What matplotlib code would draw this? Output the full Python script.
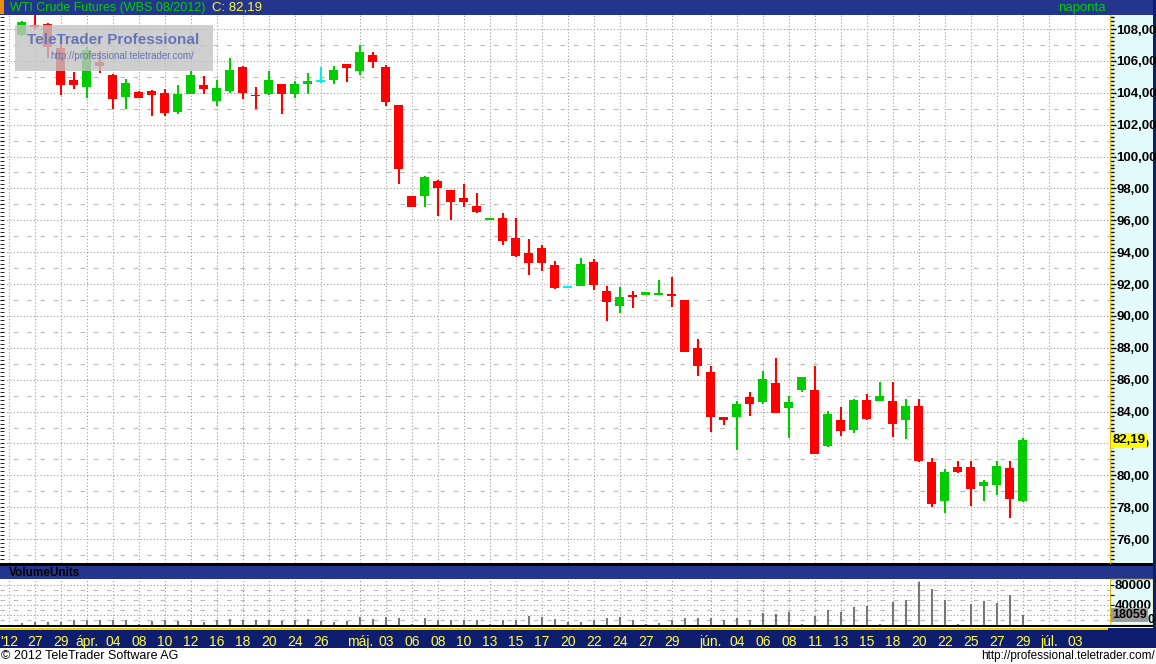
import numpy as np
import matplotlib
matplotlib.use("Agg")
import matplotlib.pyplot as plt
from matplotlib.patches import Rectangle

plt.rcParams['font.family'] = ['Liberation Sans', 'DejaVu Sans']

# daily OHLC, WTI Crude Futures (WBS 08/2012)
opens = [107.60, 108.22, 108.30, 106.79, 104.80, 104.38, 105.95, 105.11, 103.75, 104.07,
         104.10, 104.00, 102.80, 103.94, 104.49, 103.50, 104.11, 105.64, 103.86, 103.90,
         104.53, 103.92, 104.53, 104.76, 104.80, 105.78, 105.38, 106.37, 105.63, 103.25,
         97.50, 97.52, 98.44, 97.88, 97.38, 96.88, 96.06, 96.13, 94.88, 93.92,
         94.25, 93.19, 91.81, 91.88, 93.38, 91.56, 90.65, 91.31, 91.31, 91.31,
         91.38, 91.02, 87.96, 86.46, 83.65, 83.67, 84.92, 84.58, 85.77, 84.21,
         85.33, 85.33, 81.83, 83.46, 82.83, 84.71, 84.65, 84.65, 83.46, 84.33,
         80.83, 78.42, 80.52, 80.52, 79.33, 79.40, 80.46, 78.40]
highs = [108.50, 109.00, 108.35, 107.06, 105.32, 106.89, 106.62, 105.20, 104.85, 104.09,
         104.15, 104.22, 104.49, 105.38, 105.03, 104.80, 106.18, 105.68, 104.38, 105.38,
         104.55, 104.75, 105.27, 105.64, 105.70, 105.80, 106.99, 106.54, 105.75, 103.25,
         97.52, 98.81, 98.50, 97.89, 98.25, 97.69, 96.16, 96.44, 96.13, 94.81,
         94.44, 93.44, 91.81, 93.63, 93.56, 91.88, 91.81, 91.56, 91.50, 92.25,
         92.46, 91.03, 88.58, 86.83, 83.66, 84.65, 85.21, 86.52, 87.33, 84.96,
         86.16, 86.83, 84.02, 84.27, 84.77, 85.08, 85.83, 85.83, 84.77, 84.77,
         81.08, 80.40, 80.90, 80.90, 79.71, 80.90, 80.90, 82.33]
lows = [107.55, 107.98, 106.20, 103.86, 104.24, 103.69, 105.26, 102.97, 102.97, 103.67,
        102.54, 102.54, 102.67, 103.90, 103.94, 103.20, 103.98, 103.61, 102.98, 103.83,
        102.67, 103.69, 103.92, 104.63, 104.53, 104.69, 105.11, 105.57, 103.15, 98.25,
        96.82, 96.83, 96.27, 96.00, 96.83, 96.44, 96.05, 94.44, 93.69, 92.56,
        92.81, 91.69, 91.81, 91.87, 91.63, 89.70, 90.19, 90.50, 91.30, 91.30,
        90.58, 87.71, 86.21, 82.71, 83.15, 81.58, 83.71, 84.50, 83.88, 82.33,
        85.21, 81.32, 81.77, 82.46, 82.65, 83.50, 84.64, 82.40, 82.27, 80.83,
        78.02, 77.65, 80.15, 78.08, 78.42, 78.77, 77.33, 78.35]
closes = [108.45, 108.16, 106.90, 104.49, 104.49, 106.68, 105.65, 103.61, 104.63, 103.69,
          103.86, 102.75, 103.92, 105.11, 104.24, 104.30, 105.43, 104.00, 103.80, 104.80,
          103.92, 104.53, 104.74, 104.76, 105.43, 105.53, 106.58, 105.95, 103.40, 99.21,
          96.83, 98.71, 98.02, 97.13, 97.13, 96.52, 96.15, 94.71, 93.75, 93.33,
          93.33, 91.75, 91.81, 93.25, 91.94, 90.88, 91.19, 91.19, 91.50, 91.44,
          91.28, 87.75, 86.83, 83.67, 83.46, 84.46, 84.46, 86.02, 83.92, 84.58,
          86.15, 81.33, 83.83, 82.77, 84.71, 83.52, 84.96, 83.21, 84.33, 80.90,
          78.21, 80.21, 80.21, 79.15, 79.58, 80.58, 78.52, 82.19]
volumes = [2700, 4700, 6000, 6000, 8700, 8700, 9300, 9300, 8700, 1300,
           6700, 8700, 6700, 10000, 6000, 10000, 11300, 10000, 9300, 8700,
           6700, 8700, 11300, 6700, 4700, 6700, 14700, 11300, 14700, 13300,
           1300, 13300, 10000, 9300, 9300, 8700, 1300, 8700, 10000, 16700,
           14700, 11300, 4700, 6000, 10000, 13300, 16000, 10000, 1300, 2700,
           10000, 13300, 13300, 13300, 10000, 13300, 10000, 22700, 22000, 24700,
           1000, 16700, 30000, 25300, 34700, 36700, 1000, 45300, 50000, 85300,
           72000, 48700, 1500, 42000, 46700, 44000, 58700, 18059]

# date axis labels (position = trading-day index)
date_pos = [-1, 1, 3, 5, 7, 9, 11, 13, 15, 17, 19, 21, 23, 26, 28, 30, 32, 34, 36, 38, 40,
            42, 44, 46, 48, 50, 53, 55, 57, 59, 61, 63, 65, 67, 69, 71, 73, 75, 77, 79, 81]
date_lbl = ["'12", "27", "29", "ápr.", "04", "08", "10", "12", "16", "18", "20", "24", "26",
            "máj.", "03", "06", "08", "10", "13", "15", "17", "20", "22", "24", "27", "29",
            "jún.", "04", "06", "08", "11", "13", "15", "18", "20", "22", "25", "27", "29",
            "júl.", "03"]

W, H = 1156, 664
NAVY = '#24358e'
NAVY_D = '#0f1d6e'
GRID = '#9c9c9c'


def px(x0, y0, x1, y1):
    return [x0 / W, 1 - y1 / H, (x1 - x0) / W, (y1 - y0) / H]


def box(x0, y0, x1, y1, fc, ec='none', lw=0, z=-1, alpha=1):
    fig.add_artist(Rectangle((x0 / W, 1 - y1 / H), (x1 - x0) / W, (y1 - y0) / H,
                             transform=fig.transFigure, facecolor=fc, edgecolor=ec,
                             lw=lw, zorder=z, alpha=alpha))


def ftext(x, y, s, **kw):
    fig.text(x / W, 1 - y / H, s, **kw)


fig = plt.figure(figsize=(W / 100, H / 100), dpi=100)
fig.patch.set_facecolor('white')

# frame pieces
box(0, 0, W, 15, NAVY)
box(0, 0, 4, 14, '#f08c00', z=0)
box(1110, 15, 1153, 563, '#e4fbfb')
box(0, 563, W, 566, 'black')
box(0, 566, W, 579, NAVY)
box(1110, 579, 1153, 625, '#e4fbfb', ec='#e8c000', lw=1)
box(0, 625, W, 627, 'black')
box(0, 628, W, 648, NAVY_D)
box(0, 628, 1108, 629.5, '#f0d000', z=0)
box(1153, 0, W, 648, NAVY_D)

x = np.arange(len(opens))
o = np.array(opens)
c = np.array(closes)
cols = np.where(c > o, '#00cc00', np.where(c < o, '#ff0000', '#00f0f0'))

# price panel
ax = fig.add_axes(px(0, 15, 1110, 563))
ax.set_xlim(-1.69, 83.7)
ax.set_ylim(74.50, 108.88)
ax.vlines(x, lows, highs, colors=cols, lw=1.5, zorder=3)
real = np.abs(c - o)
bh = np.maximum(real, 0.12)
ax.bar(x, bh, bottom=np.minimum(o, c) - (bh - real) / 2, width=0.69, color=cols, zorder=3)

ax.set_yticks(np.arange(76, 109, 2))
ax.set_yticks(np.arange(74.5, 108.9, 0.25), minor=True)
ax.set_yticklabels([f"{v:.2f}".replace('.', ',') for v in np.arange(76, 109, 2)])
ax.yaxis.tick_right()
ax.tick_params(axis='y', which='major', direction='out', length=4, width=1, pad=0.5,
               labelsize=9.5, colors='black')
ax.tick_params(axis='y', which='minor', direction='out', length=3, width=1)
for t in ax.get_yticklabels():
    t.set_fontweight('bold')
ax.yaxis.grid(True, which='major', color=GRID, ls=(0, (1, 2)), lw=0.8)
for v in np.arange(75, 109, 2):
    ax.axhline(v, color='#b8b8b8', ls=(0, (4, 8)), lw=0.8, zorder=0)
for s in ['top', 'left', 'bottom']:
    ax.spines[s].set_visible(False)
ax.spines['right'].set_color('#e8c000')

left = ax.secondary_yaxis('left')
left.set_yticks(np.arange(76, 109, 1))
left.set_yticks(np.arange(74.5, 108.9, 0.25), minor=True)
left.tick_params(which='both', direction='in', length=3, labelleft=False)
left.spines['left'].set_visible(False)

# last price marker
ax.text(1.002, closes[-1], f"{closes[-1]:.2f}".replace('.', ','), transform=ax.get_yaxis_transform(),
        ha='left', va='center', fontsize=9.5, fontweight='bold', color='black', clip_on=False,
        zorder=10, bbox=dict(boxstyle='square,pad=0.12', fc='#ffff00', ec='none'))

# volume panel
axv = fig.add_axes(px(0, 579, 1110, 625), sharex=ax)
axv.vlines(x, 0, volumes, colors='#777777', lw=1.5, zorder=3)
axv.set_ylim(-1000, 91000)
axv.set_yticks([0, 20000, 40000, 60000, 80000])
axv.set_yticklabels(['', '', '40000', '', '80000'])
axv.yaxis.tick_right()
axv.tick_params(axis='y', direction='out', length=3, pad=0.5, labelsize=9.5)
for t in axv.get_yticklabels():
    t.set_fontweight('bold')
axv.yaxis.grid(True, color=GRID, ls=(0, (1, 2)), lw=0.8)
for v in [10000, 30000, 50000, 70000]:
    axv.axhline(v, color='#b8b8b8', ls=(0, (4, 8)), lw=0.8, zorder=0)
for s in axv.spines.values():
    s.set_visible(False)
axv.text(1.002, volumes[-1], str(volumes[-1]), transform=axv.get_yaxis_transform(),
         ha='left', va='center', fontsize=9, fontweight='bold', color='black', clip_on=False,
         zorder=10, bbox=dict(boxstyle='square,pad=0.08', fc='#9c9c9c', ec='none'))
ftext(1150.5, 620, '0', ha='center', va='center', fontsize=9, fontweight='bold')

axv.set_xticks(date_pos)
axv.set_xticklabels(date_lbl)
axv.tick_params(axis='x', length=0, pad=7, labelsize=10, colors='#ffff40')
ax.tick_params(axis='x', length=0, labelbottom=False)
ax.xaxis.grid(True, color=GRID, ls=(0, (1, 2)), lw=0.8)
axv.xaxis.grid(True, color=GRID, ls=(0, (1, 2)), lw=0.8)

# watermark
box(15, 25, 213, 71, '#c4c4c4', z=5, alpha=0.8)
ftext(113, 40, 'TeleTrader Professional', ha='center', va='center', fontsize=11,
      fontweight='bold', color='#6474b8', zorder=6)
ftext(122, 56, 'http://professional.teletrader.com/', ha='center', va='center', fontsize=7,
      color='#6474b8', zorder=6)

# header / footer texts
ftext(10, 7.5, 'WTI Crude Futures (WBS 08/2012)', ha='left', va='center', fontsize=9,
      color='#00d000')
ftext(212, 7.5, 'C: 82,19', ha='left', va='center', fontsize=9.5, color='#ffff40')
ftext(1106, 7.5, 'naponta', ha='right', va='center', fontsize=9.5, color='#00d000')
ftext(9, 572.5, 'VolumeUnits', ha='left', va='center', fontsize=8.5, fontweight='bold',
      color='black')
ftext(1, 656, '© 2012 TeleTrader Software AG', ha='left', va='center', fontsize=9,
      color='black')
ftext(1155, 656, 'http://professional.teletrader.com/', ha='right', va='center', fontsize=8.5,
      color='black')

fig.savefig('out.png', dpi=100)
